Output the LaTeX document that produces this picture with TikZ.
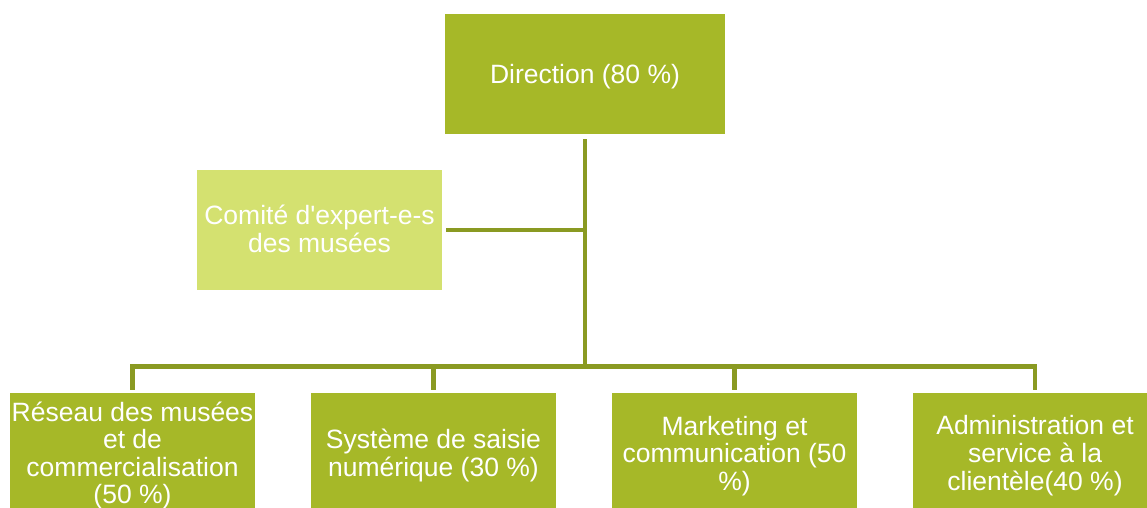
\documentclass[tikz,border=0pt]{standalone}
\usepackage{fontspec}
\setmainfont{Liberation Sans}
\definecolor{boxgreen}{HTML}{A6B828}
\definecolor{lightgreen}{HTML}{D4E170}
\definecolor{linegreen}{HTML}{8A9A22}
% centred lines of box text, lowered slightly inside the box
\newcommand\boxtext[2][4pt]{\raisebox{-#1}[\height][\depth]{\begin{tabular}{@{}c@{}}#2\end{tabular}}}
\begin{document}
\begin{tikzpicture}[x=1pt,y=-1pt,
  unit/.style={rectangle, fill=boxgreen, text=white,
    inner sep=0pt, minimum width=245pt, minimum height=120pt,
    font=\fontsize{26.5}{27.5}\selectfont},
  advisory/.style={unit, fill=lightgreen},
  conn/.style={draw=linegreen, line width=4.3pt, line join=miter}]
\useasboundingbox (0,0) rectangle (1147,507);
\begin{scope}
\clip (0,0) rectangle (1147,507);
% top management
\node[unit, minimum width=280pt] (dir) at (585,74) {\boxtext[4pt]{Direction (80 \%)}};
% advisory committee
\node[advisory] (com) at (319.5,230) {\boxtext[3pt]{Comité d\textquotesingle expert-e-s\\des musées}};
% departments
\node[unit] (r1) at (132.5,453) {\boxtext{Réseau des musées\\et de\\commercialisation\\(50 \%)}};
\node[unit] (r2) at (433.5,453) {\boxtext{Système de saisie\\numérique (30 \%)}};
\node[unit] (r3) at (734.5,453) {\boxtext{Marketing et\\communication (50\\\%)}};
\node[unit] (r4) at (1035,453) {\boxtext{Administration et\\service à la\\clientèle(40 \%)}};
% connectors
\coordinate (bus) at (585,366.5);
\draw[conn, shorten <=5pt] (dir.south) -- (bus);
\draw[conn, shorten >=4pt] (dir.south |- com.east) -- (com.east);
\draw[conn, shorten >=3pt] (bus) -| (r1.north);
\draw[conn, shorten >=3pt] (bus) -| (r2.north);
\draw[conn, shorten >=3pt] (bus) -| (r3.north);
\draw[conn, shorten >=3pt] (bus) -| (r4.north);
\end{scope}
\end{tikzpicture}
\end{document}
